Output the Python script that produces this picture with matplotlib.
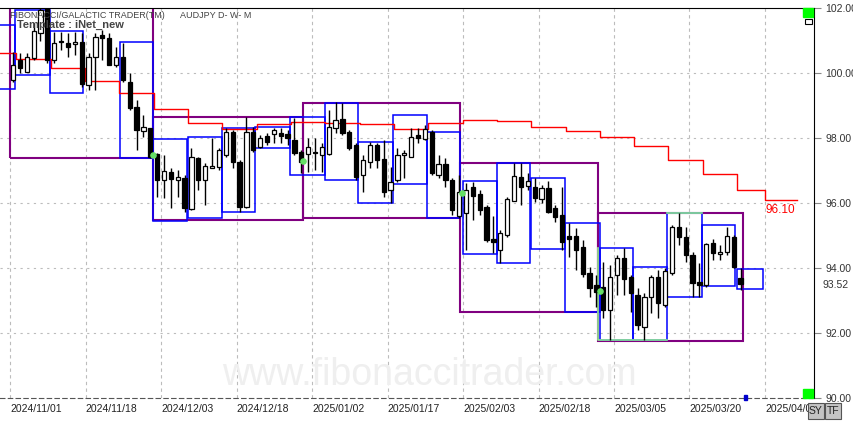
import numpy as np
import matplotlib.pyplot as plt
from matplotlib.patches import Rectangle
import matplotlib.transforms as mtransforms

# AUDJPY diario
opens = [99.78, 100.40, 100.03, 100.46, 101.23, 102.05, 100.40, 100.97, 100.92, 100.89,
         100.95, 99.63, 100.49, 101.17, 101.08, 100.25, 100.49, 99.72, 98.95, 98.22,
         98.31, 97.51, 96.71, 96.95, 96.71, 96.77, 95.82, 97.38, 96.71, 97.08,
         97.11, 97.48, 98.18, 97.26, 95.88, 98.18, 97.72, 98.06, 98.12, 98.15,
         98.12, 97.94, 97.57, 97.51, 97.54, 97.48, 97.51, 98.31, 98.58, 98.18,
         97.78, 96.86, 97.26, 97.78, 97.35, 96.40, 96.71, 97.48, 97.42, 98.09,
         97.97, 98.18, 96.86, 97.20, 96.71, 95.60, 95.69, 96.49, 96.28, 95.88,
         94.89, 94.55, 95.02, 96.06, 96.80, 96.52, 96.49, 96.12, 96.46, 95.85,
         95.63, 94.98, 94.98, 94.65, 93.85, 93.48, 93.42, 92.71, 93.78, 94.31,
         93.72, 93.17, 92.18, 93.11, 93.72, 92.86, 93.85, 95.26, 94.95, 94.40,
         93.57, 93.48, 94.77, 94.43, 94.49, 94.95, 93.70]
highs = [100.65, 100.62, 100.62, 101.54, 102.20, 102.30, 101.26, 101.26, 101.23, 101.26,
         101.23, 100.62, 101.23, 101.32, 101.23, 100.80, 100.92, 100.00, 99.17, 98.71,
         98.31, 97.54, 97.48, 97.08, 97.02, 96.86, 97.69, 97.42, 97.23, 98.00,
         97.69, 98.31, 98.25, 97.32, 98.65, 98.34, 98.09, 98.15, 98.31, 98.31,
         98.25, 98.62, 97.63, 98.00, 98.00, 97.85, 98.86, 99.11, 99.08, 98.25,
         97.85, 97.48, 97.88, 97.85, 97.94, 97.11, 97.69, 97.63, 98.31, 98.31,
         98.40, 98.25, 97.48, 97.38, 96.77, 96.86, 96.62, 96.65, 96.40, 95.94,
         95.60, 95.17, 96.18, 97.23, 97.23, 96.92, 96.77, 96.55, 96.68, 95.94,
         96.49, 95.38, 95.23, 94.86, 94.03, 93.78, 94.18, 94.09, 94.40, 94.62,
         93.78, 93.38, 93.23, 93.78, 93.94, 94.00, 95.32, 95.69, 95.26, 94.49,
         94.15, 94.77, 94.89, 94.71, 95.26, 95.02, 94.00]
lows = [99.72, 100.00, 100.03, 100.40, 101.00, 100.30, 100.31, 100.71, 100.49, 100.55,
        99.57, 99.48, 99.48, 100.40, 100.25, 100.18, 99.72, 98.86, 97.63, 98.03,
        97.38, 96.18, 96.15, 95.85, 96.18, 95.72, 95.78, 96.40, 95.94, 97.08,
        97.02, 97.42, 97.08, 95.72, 95.85, 97.57, 97.69, 97.78, 97.85, 97.85,
        97.78, 97.48, 96.92, 96.95, 97.02, 96.95, 97.48, 98.15, 98.09, 97.63,
        96.71, 96.34, 97.08, 97.08, 96.18, 96.00, 96.65, 96.77, 97.42, 97.85,
        97.94, 96.86, 96.77, 96.49, 95.63, 95.54, 94.55, 95.48, 95.63, 94.80,
        94.46, 94.15, 94.95, 96.06, 95.94, 96.40, 96.03, 96.00, 95.69, 95.42,
        94.55, 94.34, 93.94, 93.72, 93.11, 92.80, 92.46, 91.78, 93.17, 93.17,
        92.65, 92.09, 91.78, 92.62, 92.46, 92.80, 93.78, 94.71, 94.18, 93.11,
        93.11, 93.42, 94.25, 94.25, 94.40, 94.00, 93.32]
closes = [100.25, 100.15, 100.49, 101.29, 101.94, 100.40, 100.92, 100.95, 100.80, 100.95,
          99.66, 100.49, 101.11, 101.08, 100.25, 100.49, 99.78, 98.92, 98.25, 98.34,
          97.42, 96.71, 96.98, 96.74, 96.80, 95.85, 97.42, 96.71, 97.14, 97.14,
          97.63, 98.18, 97.26, 95.88, 98.18, 97.63, 98.00, 97.88, 98.25, 98.06,
          98.00, 97.54, 97.26, 97.72, 97.53, 97.72, 98.34, 98.55, 98.15, 97.69,
          96.80, 97.32, 97.78, 97.32, 96.34, 96.65, 97.48, 97.54, 98.03, 98.00,
          98.28, 96.92, 97.20, 96.71, 95.78, 96.34, 96.40, 96.22, 95.78, 94.86,
          94.80, 95.08, 96.12, 96.83, 96.49, 96.68, 96.15, 96.46, 95.72, 95.57,
          94.80, 94.89, 94.55, 93.82, 93.38, 93.26, 92.71, 93.72, 94.31, 93.66,
          93.23, 92.25, 93.11, 93.72, 92.92, 93.91, 95.26, 94.95, 94.40, 93.54,
          93.48, 94.74, 94.46, 94.49, 94.98, 94.03, 93.52]

date_labels = ['2024/11/01', '2024/11/18', '2024/12/03', '2024/12/18', '2025/01/02',
               '2025/01/17', '2025/02/03', '2025/02/18', '2025/03/05', '2025/03/20',
               '2025/04/04']
label_bars = [0, 11, 22, 33, 44, 55, 66, 77, 88, 99, 110]

# linea roja semanal (escalones)
week_edges = [-4.5, 0.5, 5.5, 10.5, 15.5, 20.5, 25.5, 30.5, 35.5, 40.5, 45.5, 50.5,
              55.5, 60.5, 65.5, 70.5, 75.5, 80.5, 85.5, 90.5, 95.5, 100.5, 105.5,
              109.6, 114.2]
week_levels = [100.62, 100.43, 100.15, 99.75, 99.38, 98.89, 98.46, 98.28, 98.43, 98.49,
               98.46, 98.43, 98.28, 98.46, 98.55, 98.52, 98.34, 98.22, 98.03, 97.75,
               97.32, 96.89, 96.40, 96.10]

# cajas (inicio, fin, alto, bajo)
purple_boxes = [(-0.44, 20.4, 102.3, 97.38), (20.4, 42.3, 98.65, 95.48),
                (42.3, 65.1, 99.08, 95.54), (65.1, 85.2, 97.23, 92.65),
                (85.2, 106.35, 95.69, 91.75)]
blue_boxes = [(-3.0, 0.3, 101.48, 99.51), (0.3, 5.4, 101.94, 99.94),
              (5.4, 10.2, 101.29, 99.38), (15.6, 20.4, 100.95, 97.38),
              (20.4, 25.35, 97.97, 95.45), (25.5, 30.45, 98.03, 95.54),
              (30.45, 35.26, 98.31, 95.72), (35.26, 40.36, 98.34, 97.69),
              (40.36, 45.45, 98.65, 96.86), (45.45, 50.26, 99.08, 96.71),
              (50.26, 55.36, 97.88, 96.00), (55.36, 60.3, 98.71, 96.58),
              (60.3, 65.12, 98.18, 95.54), (65.56, 70.5, 96.68, 94.43),
              (70.5, 75.3, 97.23, 94.15), (75.5, 80.4, 96.77, 94.58),
              (80.4, 85.5, 95.38, 92.65), (85.5, 90.3, 94.62, 91.78),
              (90.3, 95.3, 94.03, 91.78), (95.3, 100.4, 95.69, 93.11),
              (100.4, 105.2, 95.32, 93.45), (105.5, 109.3, 93.97, 93.35)]
green_dots_x = [20.4, 42.2, 65.4, 85.5]
green_dots_y = [97.48, 97.29, 96.31, 93.29]

plt.rcParams['font.family'] = ['Liberation Sans', 'DejaVu Sans']
W, H = 854, 422
fig = plt.figure(figsize=(W / 100, H / 100), dpi=100)
ax = fig.add_axes([0, (H - 398) / H, 814 / W, 390 / H])
ax.set_xlim(-1.9, 116.7)
ax.set_ylim(90, 102)

# rejilla
for b in label_bars:
    ax.axvline(b - 0.44, color='#bcbcbc', lw=0.8, ls=(0, (3, 3)), zorder=0)
for v in [92, 94, 96, 98, 100]:
    ax.axhline(v, color='#bcbcbc', lw=0.8, ls=(0, (2, 4)), zorder=0)

ax.text(0.528, 0.06, 'www.fibonaccitrader.com', transform=ax.transAxes, fontsize=27,
        color='#efefef', ha='center', va='center', zorder=0)

# cajas
for x0, x1, top, bot in purple_boxes:
    ax.add_patch(Rectangle((x0, bot), x1 - x0, top - bot, fill=False,
                           edgecolor='#800080', lw=1.5, zorder=1))
for x0, x1, top, bot in blue_boxes:
    ax.add_patch(Rectangle((x0, bot), x1 - x0, top - bot, fill=False,
                           edgecolor='#0000ff', lw=1.1, zorder=1.5))
ax.plot([85.3, 85.3, 95.3], [94.62, 91.78, 91.78], color='#90ee90', lw=1.2, zorder=1.6)
ax.plot([95.3, 100.4], [95.69, 95.69], color='#90ee90', lw=1.2, zorder=1.6)

# linea roja
ax.step(week_edges, week_levels + [week_levels[-1]], where='post', color='red', lw=1, zorder=2)
ax.text(109.6, 95.78, '96.10', color='red', fontsize=8.5, ha='left', va='center')

# velas
o, h, l, c = map(np.array, (opens, highs, lows, closes))
idx = np.arange(len(o))
up = c >= o
body = np.maximum(np.abs(c - o), 0.03)
ax.vlines(idx, l, h, color='black', lw=1, zorder=3)
ax.bar(idx[up], body[up], bottom=o[up], width=0.62, color='white',
       edgecolor='black', lw=0.9, zorder=4)
ax.bar(idx[~up], body[~up], bottom=c[~up], width=0.62, color='black',
       edgecolor='black', lw=0.9, zorder=4)
ax.scatter(green_dots_x, green_dots_y, s=14, color='#66e066', zorder=5)

# ejes
ax.spines['left'].set_visible(False)
ax.spines['top'].set_color('black')
ax.spines['right'].set_color('black')
ax.spines['bottom'].set_color('#555555')
ax.spines['bottom'].set_linestyle((0, (4, 3)))
ax.set_xticks([])
ax.yaxis.tick_right()
ax.set_yticks([90, 92, 94, 96, 98, 100, 102])
ax.set_yticklabels(['%.2f' % v for v in [90, 92, 94, 96, 98, 100, 102]])
ax.tick_params(axis='y', length=5, color='#888888', pad=3, labelsize=7.5,
               labelcolor='#333333')

trans = mtransforms.blended_transform_factory(ax.transData, ax.transAxes)
for b, lab in zip(label_bars, date_labels):
    ax.text(b - 0.44, -11 / 390, lab, transform=trans, fontsize=7.5, color='#222222',
            ha='left', va='center', clip_on=False)
ax.annotate('93.52', xy=(1, 93.52), xycoords=('axes fraction', 'data'),
            xytext=(6, -1), textcoords='offset points', fontsize=7.5, color='#333333',
            ha='left', va='center', annotation_clip=False)

# textos de cabecera
fig.text(10 / W, 1 - 15 / H, 'FIBONACCI/GALACTIC TRADER(TM)', fontsize=6.5,
         color='#444444', va='center')
fig.text(180 / W, 1 - 15 / H, 'AUDJPY D- W- M', fontsize=6.5, color='#444444', va='center')
fig.text(17 / W, 1 - 25 / H, 'Template : iNet_new', fontsize=8, fontweight='bold',
         color='#444444', va='center')

# detalles de la esquina
fig.add_artist(Rectangle((803 / W, 1 - 17 / H), 10 / W, 9 / H, transform=fig.transFigure,
                         color='#00ff00'))
fig.add_artist(Rectangle((805 / W, 1 - 24 / H), 7 / W, 5 / H, transform=fig.transFigure,
                         fill=False, edgecolor='black', lw=0.8))
fig.add_artist(Rectangle((803 / W, 1 - 398 / H), 10 / W, 9 / H, transform=fig.transFigure,
                         color='#00ff00'))
fig.add_artist(Rectangle((744 / W, 1 - 400 / H), 3 / W, 5 / H, transform=fig.transFigure,
                         color='#0000cc'))
for x0, lab in [(808, 'SY'), (825, 'TF')]:
    fig.add_artist(Rectangle((x0 / W, 1 - 419 / H), 16 / W, 16 / H,
                             transform=fig.transFigure, facecolor='#c4c4c4',
                             edgecolor='#555555', lw=0.8, zorder=6))
    fig.text((x0 + 8) / W, 1 - 411 / H, lab, fontsize=7.5, ha='center', va='center',
             color='#222222', zorder=7)

fig.savefig('out.png', dpi=100)
